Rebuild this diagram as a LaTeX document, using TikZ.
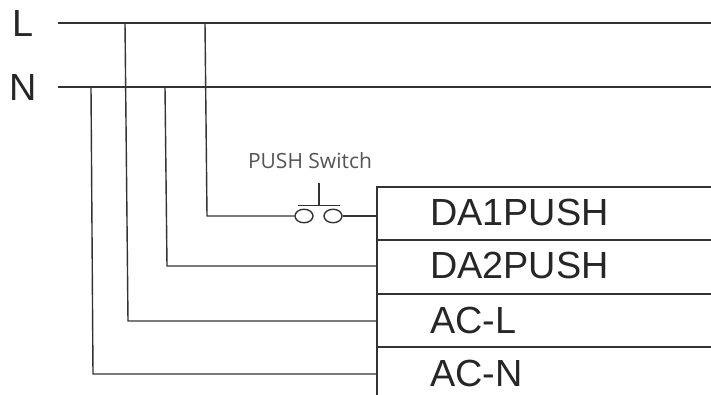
\documentclass[tikz,border=0pt]{standalone}
\usepackage{fontspec}
\setmainfont{Liberation Sans}
\newfontfamily\captionfont{Open Sans}
\definecolor{wire}{HTML}{333333}
\definecolor{caption}{HTML}{555555}
\tikzset{
    wireline/.style={draw=wire,line width=1.4pt},
    portlabel/.style={anchor=west,inner sep=0pt,text=black!85,font=\fontsize{37.8}{38}\selectfont},
    contact/.style={draw=wire,line width=1.4pt,ellipse,minimum width=18pt,minimum height=13.5pt,inner sep=0pt},
}
\usetikzlibrary{shapes.geometric}
\begin{document}
\begin{tikzpicture}[x=1pt,y=-1pt]
    \useasboundingbox (0,0) rectangle (711,395);
    \fill[white] (0,0) rectangle (711,395);
    \path (23,24) node[font=\fontsize{37.8}{38}\selectfont,text=black!85] (lineL) {L};
    \path (23,87) node[font=\fontsize{37.8}{38}\selectfont,text=black!85] (lineN) {N};
    \path (58,23) coordinate (Lstart);
    \path (711,23) coordinate (Lend);
    \path (58,87) coordinate (Nstart);
    \path (711,87) coordinate (Nend);
    \draw [wireline] (Lstart) -- (Lend);
    \draw [wireline] (Nstart) -- (Nend);
    \path (125,23) coordinate (tapAcL);
    \path (205,23) coordinate (tapPush);
    \path (91,87) coordinate (tapAcN);
    \path (165,87) coordinate (tapDaTwo);
    \path (377,187) coordinate (boxTop);
    \path (711,187) coordinate (boxTopEnd);
    \path (377,395) coordinate (boxBottom);
    \draw [wireline] (boxTopEnd) -- (boxTop) -- (boxBottom);
    \path (377,240) coordinate (rowA);
    \path (711,240) coordinate (rowAend);
    \path (377,294) coordinate (rowB);
    \path (711,294) coordinate (rowBend);
    \path (377,347) coordinate (rowC);
    \path (711,347) coordinate (rowCend);
    \draw [wireline] (rowA) -- (rowAend);
    \draw [wireline] (rowB) -- (rowBend);
    \draw [wireline] (rowC) -- (rowCend);
    \path (430,212) node[portlabel] (daOne) {DA1PUSH};
    \path (430,265) node[portlabel] (daTwo) {DA2PUSH};
    \path (430,320) node[portlabel] (acL) {AC-L};
    \path (430,373) node[portlabel] (acN) {AC-N};
    \path (304,216) node[contact] (contactA) {};
    \path (333,216) node[contact] (contactB) {};
    \path (298,205.5) coordinate (barLeft);
    \path (340,205.5) coordinate (barRight);
    \path (319,205.5) coordinate (barMid);
    \path (319,183) coordinate (stemTop);
    \draw [wireline] (barLeft) -- (barRight);
    \draw [wireline] (barMid) -- (stemTop);
    \path (310,161) node[text=caption,font=\captionfont\fontsize{21}{22}\selectfont] (pushLabel) {PUSH Switch};
    \path (377,216) coordinate (pinDaOne);
    \path (377,266) coordinate (pinDaTwo);
    \path (377,321) coordinate (pinAcL);
    \path (377,374) coordinate (pinAcN);
    \draw [wireline] (tapPush) -- (207,216) -- (contactA.west);
    \draw [wireline] (contactB.east) -- (pinDaOne);
    \draw [wireline] (tapDaTwo) -- (167,266) -- (pinDaTwo);
    \draw [wireline] (tapAcL) -- (128,321) -- (pinAcL);
    \draw [wireline] (tapAcN) -- (93,374) -- (pinAcN);
\end{tikzpicture}
\end{document}
